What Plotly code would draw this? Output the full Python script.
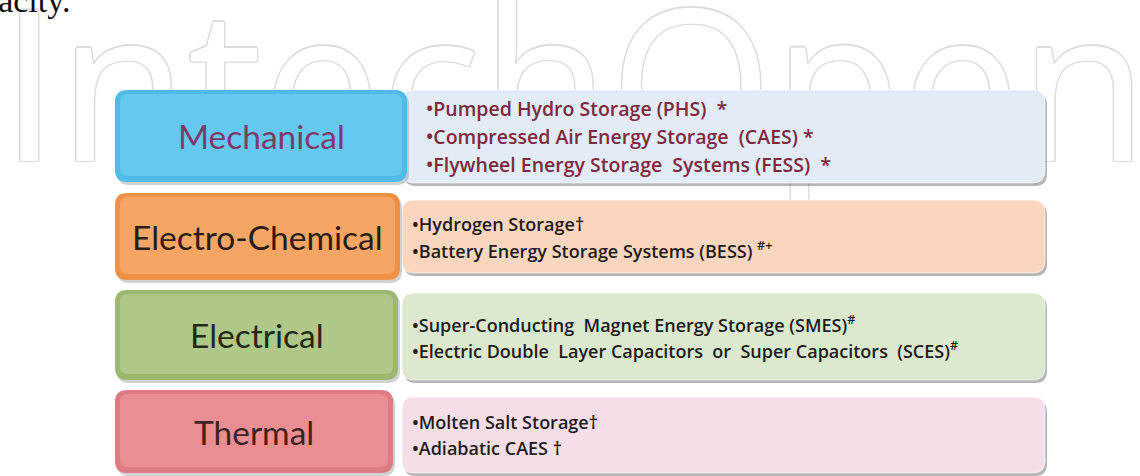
import plotly.graph_objects as go

# categories and their listed technologies
categories = ["Mechanical", "Electro-Chemical", "Electrical", "Thermal"]
items = [
    ["•Pumped Hydro Storage (PHS)  *",
     "•Compressed Air Energy Storage  (CAES) *",
     "•Flywheel Energy Storage  Systems (FESS)  *"],
    ["•Hydrogen Storage†",
     "•Battery Energy Storage Systems (BESS) <sup>#+</sup>"],
    ["•Super-Conducting  Magnet Energy Storage (SMES)<sup>#</sup>",
     "•Electric Double  Layer Capacitors  or  Super Capacitors  (SCES)<sup>#</sup>"],
    ["•Molten Salt Storage†",
     "•Adiabatic CAES †"],
]
watermark = "IntechOpen"

# layout of the diagram (pixel space)
W, H = 1140, 476
left_top = [90, 193, 290, 390]
left_bot = [182, 280, 380, 473]
left_x0 = [115, 115, 115, 115]
left_x1 = [407, 400, 398, 393]
panel_top = [90, 200, 293, 397]
panel_bot = [183, 273, 380, 473]
panel_x0, panel_x1 = 402, 1045

box_outer = ["#50bbe8", "#ee9146", "#9cb76f", "#dd7c83"]
box_inner = ["#65c8ef", "#f6a564", "#afc787", "#eb8e94"]
panel_fill = ["#e3ebf6", "#fbd6bf", "#dde9cf", "#f5dee8"]
label_col = ["#7b3c6a", "#2a1c16", "#1f2a18", "#3d2323"]
item_col = ["#7c2a3c", "#1c1c1c", "#1c1c1c", "#1c1c1c"]


def rrect(x0, y0, x1, y1, r):
    return (f"M {x0+r},{y0} L {x1-r},{y0} Q {x1},{y0} {x1},{y0+r} "
            f"L {x1},{y1-r} Q {x1},{y1} {x1-r},{y1} L {x0+r},{y1} "
            f"Q {x0},{y1} {x0},{y1-r} L {x0},{y0+r} Q {x0},{y0} {x0+r},{y0} Z")


fig = go.Figure()

# faint outlined watermark behind the boxes
ol = "#dcdcdc"
fig.add_trace(go.Scatter(
    x=[0], y=[108], mode="text", text=[watermark],
    textposition="middle right", cliponaxis=False, hoverinfo="skip",
    textfont=dict(family="Open Sans", size=210, color="white", weight=500,
                  shadow=f"1.5px 0 {ol}, -1.5px 0 {ol}, 0 1.5px {ol}, 0 -1.5px {ol}, "
                         f"1px 1px {ol}, -1px -1px {ol}, 1px -1px {ol}, -1px 1px {ol}"),
))

shapes = []
annotations = []
for i, cat in enumerate(categories):
    # right panel with shadow
    shapes.append(dict(type="path", path=rrect(panel_x0 + 2, panel_top[i] + 3, panel_x1 + 2, panel_bot[i] + 3, 12),
                       fillcolor="rgba(120,120,120,0.55)", line=dict(width=0), layer="above"))
    shapes.append(dict(type="path", path=rrect(panel_x0, panel_top[i], panel_x1, panel_bot[i], 12),
                       fillcolor=panel_fill[i], line=dict(color="rgba(255,255,255,0.6)", width=1), layer="above"))
    # left bevelled box
    x0, x1, y0, y1 = left_x0[i], left_x1[i], left_top[i], left_bot[i]
    shapes.append(dict(type="path", path=rrect(x0 + 2, y0 + 3, x1 + 2, y1 + 3, 12),
                       fillcolor="rgba(140,140,140,0.4)", line=dict(width=0), layer="above"))
    shapes.append(dict(type="path", path=rrect(x0, y0, x1, y1, 12),
                       fillcolor=box_outer[i], line=dict(width=0), layer="above"))
    shapes.append(dict(type="path", path=rrect(x0 + 5, y0 + 4, x1 - 5, y1 - 6, 8),
                       fillcolor=box_inner[i], line=dict(width=0), layer="above"))

    annotations.append(dict(x=(x0 + x1) / 2, y=(y0 + y1) / 2, text=cat, showarrow=False,
                            xanchor="center", yanchor="middle",
                            font=dict(family="Lato", size=33.5, color=label_col[i])))

    n = len(items[i])
    pitch = 28 if n == 3 else 26
    cy = (panel_top[i] + panel_bot[i]) / 2
    tx = 424 if i == 0 else 410
    fs = 19.5 if i == 0 else 18
    for j, it in enumerate(items[i]):
        annotations.append(dict(x=tx, y=cy + (j - (n - 1) / 2) * pitch, text=it, showarrow=False,
                                xanchor="left", yanchor="middle",
                                font=dict(family="Open Sans", size=fs, color=item_col[i], weight=600)))

# cut-off line of text from the page above
annotations.append(dict(x=73, y=21, text="capacity.", showarrow=False, xanchor="right", yanchor="bottom",
                        font=dict(family="Liberation Serif", size=34, color="#111111")))

fig.update_layout(
    width=W, height=H, autosize=False,
    margin=dict(l=0, r=0, t=0, b=0),
    paper_bgcolor="white", plot_bgcolor="white",
    xaxis=dict(range=[0, W], visible=False, fixedrange=True),
    yaxis=dict(range=[H, 0], visible=False, fixedrange=True),
    shapes=shapes, annotations=annotations, showlegend=False,
)

fig.write_html("out.html", config={"displayModeBar": False},
               post_script="document.body.style.margin='0px';")
